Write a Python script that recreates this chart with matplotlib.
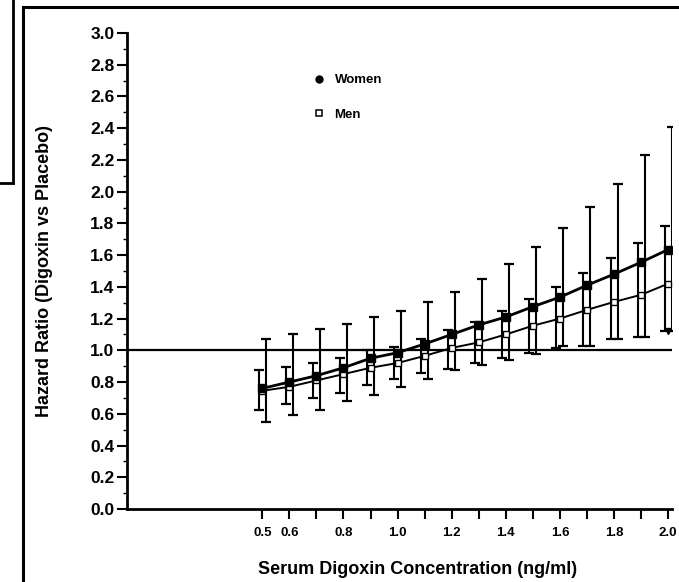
import numpy as np
import matplotlib
matplotlib.use("Agg")
import matplotlib.pyplot as plt
from matplotlib.lines import Line2D
from matplotlib.ticker import MultipleLocator, FixedLocator

plt.rcParams['font.family'] = ['Liberation Sans', 'DejaVu Sans']
plt.rcParams['font.weight'] = 'bold'

# serum digoxin concentration (ng/ml)
conc = [0.5, 0.6, 0.7, 0.8, 0.9, 1.0, 1.1, 1.2, 1.3, 1.4, 1.5, 1.6, 1.7, 1.8, 1.9, 2.0]

# hazard ratios with 95% CI
women = [0.76, 0.80, 0.84, 0.89, 0.95, 0.985, 1.04, 1.10, 1.16, 1.21, 1.275, 1.335, 1.41, 1.48, 1.555, 1.635]
women_lo = [0.55, 0.59, 0.625, 0.68, 0.72, 0.77, 0.82, 0.875, 0.905, 0.94, 0.975, 1.03, 1.03, 1.07, 1.085, 1.12]
women_hi = [1.07, 1.10, 1.135, 1.165, 1.21, 1.25, 1.305, 1.37, 1.45, 1.545, 1.65, 1.77, 1.905, 2.05, 2.23, 2.41]

men = [0.745, 0.77, 0.81, 0.85, 0.89, 0.92, 0.965, 1.015, 1.05, 1.10, 1.155, 1.20, 1.255, 1.305, 1.35, 1.42]
men_lo = [0.625, 0.66, 0.70, 0.73, 0.78, 0.82, 0.855, 0.885, 0.92, 0.95, 0.985, 1.015, 1.03, 1.07, 1.085, 1.12]
men_hi = [0.875, 0.895, 0.92, 0.95, 1.0, 1.02, 1.07, 1.13, 1.18, 1.245, 1.325, 1.40, 1.49, 1.58, 1.675, 1.785]

xtick_labels = ['0.5', '0.6', '', '0.8', '', '1.0', '', '1.2', '', '1.4', '', '1.6', '', '1.8', '', '2.0']

x = np.array(conc)
w = np.array(women)
m = np.array(men)

fig = plt.figure(figsize=(6.79, 5.82), dpi=100)
ax = fig.add_axes([0.187, 0.1254, 0.803, 0.818])

# reference line at HR = 1
ax.axhline(1.0, color='black', lw=1.6, zorder=1)

# error bars, nudged apart a little like the original
off = 0.013
ax.errorbar(x - off, m, yerr=[m - np.array(men_lo), np.array(men_hi) - m], fmt='none',
            ecolor='black', elinewidth=1.5, capsize=3.5, capthick=1.6, zorder=2)
ax.errorbar(x + off, w, yerr=[w - np.array(women_lo), np.array(women_hi) - w], fmt='none',
            ecolor='black', elinewidth=1.5, capsize=3.5, capthick=1.6, zorder=2)

ax.plot(x, m, color='black', lw=1.4, marker='s', ms=5, mfc='white', mec='black', mew=1.0, zorder=3)
ax.plot(x, w, color='black', lw=2.0, marker='s', ms=5.5, mfc='black', mec='black', zorder=4)
ax.plot(x[-1], women_lo[-1], marker='v', color='black', ms=5, ls='', zorder=4)

ax.set_xlim(0, 2.015)
ax.set_ylim(0, 3.0)

for s in ['top', 'right']:
    ax.spines[s].set_visible(False)
for s in ['left', 'bottom']:
    ax.spines[s].set_linewidth(2.0)

ax.yaxis.set_major_locator(MultipleLocator(0.2))
ax.yaxis.set_minor_locator(MultipleLocator(0.1))
ax.yaxis.set_major_formatter(matplotlib.ticker.FormatStrFormatter('%.1f'))
ax.xaxis.set_major_locator(FixedLocator(conc))
ax.set_xticklabels(xtick_labels)

ax.tick_params(axis='y', which='major', direction='out', length=7, width=1.5, labelsize=12.5, pad=2)
ax.tick_params(axis='y', which='minor', direction='out', length=3, width=1.0)
ax.tick_params(axis='x', which='major', direction='out', length=7, width=1.5, labelsize=9.5, pad=6)

fig.text(0.065, 0.534, 'Hazard Ratio (Digoxin vs Placebo)', rotation=90, ha='center', va='center',
         fontsize=13, fontweight='bold')
fig.text(0.615, 0.022, 'Serum Digoxin Concentration (ng/ml)', ha='center', va='center',
         fontsize=13, fontweight='bold')

handles = [Line2D([], [], marker='o', ls='', color='black', ms=5),
           Line2D([], [], marker='s', ls='', mfc='white', mec='black', mew=1.1, ms=5)]
ax.legend(handles, ['Women', 'Men'], loc='upper left', bbox_to_anchor=(0.452, 0.884),
          bbox_transform=fig.transFigure, frameon=False, fontsize=9.5, labelspacing=1.7,
          handlelength=0.8, handletextpad=0.8, borderpad=0)

# scanned-page frame lines
fig.add_artist(Line2D([23 / 679, 23 / 679], [0, 1 - 7 / 582], color='black', lw=2.2))
fig.add_artist(Line2D([23 / 679, 1], [1 - 7 / 582, 1 - 7 / 582], color='black', lw=2.2))
fig.add_artist(Line2D([13 / 679, 13 / 679], [1, 1 - 183 / 582], color='black', lw=2.0))
fig.add_artist(Line2D([0, 13 / 679], [1 - 183 / 582, 1 - 183 / 582], color='black', lw=2.0))

fig.savefig('out.png', dpi=100)
